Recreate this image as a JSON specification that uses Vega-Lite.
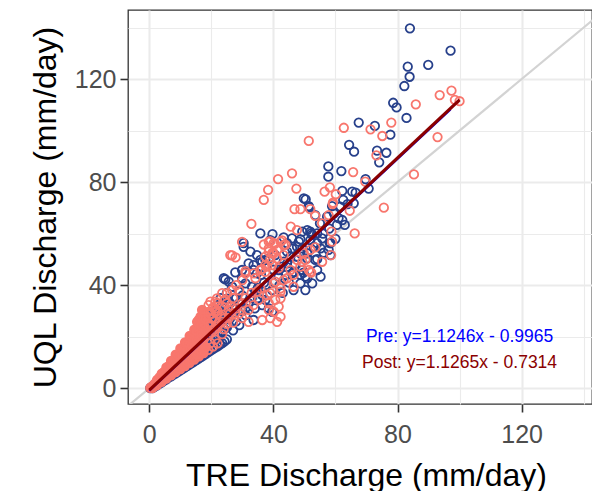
{
  "$schema": "https://vega.github.io/schema/vega-lite/v6.json",
  "autosize": {"type": "none"},
  "padding": {"left": 128, "top": 10, "right": 0, "bottom": 87},
  "width": 464,
  "height": 394,
  "background": "white",
  "config": {
    "font": "Liberation Sans",
    "view": {"stroke": "#333333", "strokeWidth": 1.3, "fill": "white"}
  },
  "datasets": {
    "pre": [
      {"tre":84.0,"uql":139.7},{"tre":97.1,"uql":131.0},{"tre":89.9,"uql":125.5},{"tre":83.3,"uql":124.8},{"tre":83.9,"uql":120.9},{"tre":82.2,"uql":117.3},{"tre":78.6,"uql":110.8},{"tre":79.7,"uql":109.0},{"tre":82.9,"uql":104.9},{"tre":67.5,"uql":103.1},{"tre":72.7,"uql":101.8},{"tre":77.7,"uql":98.4},{"tre":64.4,"uql":94.5},{"tre":66.0,"uql":91.8},{"tre":73.4,"uql":92.2},{"tre":76.4,"uql":91.4},{"tre":74.1,"uql":87.7},{"tre":57.7,"uql":86.1},{"tre":57.7,"uql":82.1},{"tre":61.9,"uql":84.3},{"tre":69.7,"uql":81.2},{"tre":70.7,"uql":77.5},{"tre":62.2,"uql":76.6},{"tre":65.4,"uql":76.3},{"tre":66.5,"uql":75.9},{"tre":50.4,"uql":73.3},{"tre":51.5,"uql":70.2},{"tre":63.9,"uql":71.5},{"tre":65.9,"uql":71.8},{"tre":57.3,"uql":66.6},{"tre":63.0,"uql":63.4},{"tre":58.4,"uql":56.3},{"tre":35.8,"uql":60.1},{"tre":39.7,"uql":59.8},{"tre":43.3,"uql":58.6},{"tre":48.7,"uql":57.8},{"tre":52.2,"uql":60.1},{"tre":54.1,"uql":50.1},{"tre":49.7,"uql":44.9},{"tre":30.4,"uql":54.9},{"tre":24.5,"uql":42.3},{"tre":27.7,"uql":45.0},{"tre":18.1,"uql":27.2},
      {"tre":49.8,"uql":73.7},{"tre":51.4,"uql":70.7},{"tre":53.5,"uql":67.2},{"tre":58.9,"uql":70.7},{"tre":59.5,"uql":67.9},{"tre":62.2,"uql":65.3},{"tre":60.5,"uql":63.4},{"tre":46.0,"uql":58.2},{"tre":51.9,"uql":60.8},{"tre":54.1,"uql":60.1},{"tre":51.9,"uql":57.5},{"tre":54.1,"uql":56.3},{"tre":55.7,"uql":58.2},{"tre":58.2,"uql":56.3},{"tre":58.4,"uql":51.7},{"tre":53.5,"uql":49.8},{"tre":50.9,"uql":50.4},{"tre":47.6,"uql":51.1},{"tre":55.2,"uql":54.3},{"tre":56.2,"uql":52.6},{"tre":46.0,"uql":54.3},{"tre":47.6,"uql":54.9},{"tre":44.4,"uql":53.0},{"tre":43.3,"uql":49.1},{"tre":44.4,"uql":47.0},{"tre":41.7,"uql":45.9},{"tre":46.5,"uql":45.2},{"tre":48.7,"uql":44.0},{"tre":50.3,"uql":43.3},{"tre":34.7,"uql":44.6},{"tre":37.4,"uql":49.8},{"tre":33.6,"uql":45.9},
      {"tre":24.0,"uql":42.7},{"tre":25.6,"uql":41.4},{"tre":26.7,"uql":39.4},{"tre":28.8,"uql":37.5},{"tre":29.9,"uql":45.9},{"tre":31.0,"uql":45.2},{"tre":32.0,"uql":48.5},{"tre":33.6,"uql":47.8},{"tre":29.9,"uql":42.7},{"tre":31.0,"uql":40.7},{"tre":33.1,"uql":39.4},{"tre":34.2,"uql":37.5},{"tre":36.4,"uql":36.2},{"tre":37.4,"uql":34.3},{"tre":36.4,"uql":32.3},{"tre":38.5,"uql":31.0},{"tre":39.6,"uql":29.7},{"tre":38.0,"uql":40.1},{"tre":39.6,"uql":38.1},{"tre":41.7,"uql":43.3},{"tre":36.4,"uql":49.1},{"tre":38.5,"uql":50.4},{"tre":40.6,"uql":51.7},{"tre":18.6,"uql":28.4},{"tre":21.3,"uql":27.8},{"tre":27.7,"uql":31.0},{"tre":31.0,"uql":28.4},{"tre":33.6,"uql":26.5},
      {"tre":62.5,"uql":73.1},{"tre":61.6,"uql":70.5},{"tre":57.8,"uql":53.7},{"tre":49.3,"uql":60.8},{"tre":50.9,"uql":61.4},{"tre":52.5,"uql":59.5},{"tre":30.4,"uql":56.3},{"tre":32.6,"uql":53.0},{"tre":34.7,"uql":51.7},{"tre":35.8,"uql":49.8},{"tre":39.0,"uql":57.5},{"tre":44.4,"uql":56.3},{"tre":48.2,"uql":56.9},{"tre":49.3,"uql":54.3},{"tre":48.7,"uql":52.4},{"tre":50.9,"uql":52.4},{"tre":45.5,"uql":51.1},{"tre":44.4,"uql":48.5},{"tre":42.3,"uql":47.2},{"tre":46.0,"uql":44.6},{"tre":49.3,"uql":45.9},{"tre":50.9,"uql":42.7},{"tre":52.5,"uql":40.7},{"tre":48.7,"uql":40.7},{"tre":46.5,"uql":38.1},{"tre":50.3,"uql":38.1},{"tre":54.1,"uql":45.9},{"tre":55.2,"uql":43.3},
      {"tre":27,"uql":22.5},{"tre":29,"uql":24.5},{"tre":28,"uql":26},{"tre":30,"uql":30},{"tre":32,"uql":33},{"tre":34,"uql":31},{"tre":35,"uql":35},{"tre":25,"uql":24},{"tre":23,"uql":25},{"tre":26,"uql":27},{"tre":20,"uql":24},{"tre":22,"uql":28.5},{"tre":24,"uql":31},{"tre":21,"uql":25},{"tre":23,"uql":35},{"tre":25,"uql":37},{"tre":22,"uql":32},{"tre":20,"uql":29.5},{"tre":24,"uql":29},{"tre":26,"uql":33},{"tre":28,"uql":35},{"tre":27,"uql":29},{"tre":30,"uql":36},{"tre":29,"uql":33},{"tre":31,"uql":31},{"tre":33,"uql":35},{"tre":35,"uql":39},{"tre":37,"uql":41},{"tre":36,"uql":44},{"tre":40,"uql":46},{"tre":42,"uql":40},{"tre":43,"uql":37},{"tre":45,"uql":41},{"tre":44,"uql":44},{"tre":47,"uql":48},{"tre":53,"uql":55},{"tre":56,"uql":60},{"tre":60,"uql":58},{"tre":61,"uql":66},{"tre":55,"uql":64},{"tre":58,"uql":62},
      {"tre":0.3,"uql":0.1},{"tre":0.6,"uql":0.35},
      {"tre":1,"uql":0.05},{"tre":1,"uql":0.2},{"tre":1,"uql":0.4},{"tre":1,"uql":0.6},
      {"tre":2.5,"uql":1.1},{"tre":2.5,"uql":1.6},{"tre":2.5,"uql":2.1},{"tre":2.5,"uql":2.75},
      {"tre":4,"uql":2.3},{"tre":4,"uql":3.1},{"tre":4,"uql":3.9},{"tre":4,"uql":4.9},
      {"tre":5.5,"uql":3.5},{"tre":5.5,"uql":4.6},{"tre":5.5,"uql":5.7},{"tre":5.5,"uql":7.0},
      {"tre":7,"uql":4.65},{"tre":7,"uql":6.05},{"tre":7,"uql":7.45},{"tre":7,"uql":9.2},
      {"tre":8.5,"uql":5.8},{"tre":8.5,"uql":7.5},{"tre":8.5,"uql":9.2},{"tre":8.5,"uql":11.35},
      {"tre":10,"uql":6.95},{"tre":10,"uql":8.95},{"tre":10,"uql":10.95},{"tre":10,"uql":13.45},
      {"tre":11.5,"uql":8.1},{"tre":11.5,"uql":10.4},{"tre":11.5,"uql":12.7},{"tre":11.5,"uql":15.55},
      {"tre":13,"uql":9.25},{"tre":13,"uql":11.85},{"tre":13,"uql":14.45},{"tre":13,"uql":17.7},
      {"tre":14.5,"uql":10.4},{"tre":14.5,"uql":13.3},{"tre":14.5,"uql":16.2},{"tre":14.5,"uql":19.85},
      {"tre":16,"uql":11.6},{"tre":16,"uql":14.8},{"tre":16,"uql":18.0},{"tre":16,"uql":22.0},
      {"tre":17.5,"uql":12.8},{"tre":17.5,"uql":16.3},{"tre":17.5,"uql":19.8},{"tre":17.5,"uql":24.2},
      {"tre":19,"uql":14.0},{"tre":19,"uql":17.8},{"tre":19,"uql":21.6},{"tre":19,"uql":26.3},
      {"tre":20.5,"uql":15.2},{"tre":20.5,"uql":19.2},{"tre":20.5,"uql":23.3},{"tre":20.5,"uql":28.4},
      {"tre":22,"uql":16.3},{"tre":22,"uql":20.7},{"tre":22,"uql":25.1},{"tre":22,"uql":30.6},
      {"tre":23.5,"uql":17.5},{"tre":23.5,"uql":22.2},{"tre":23.5,"uql":26.9},{"tre":23.5,"uql":32.7},
      {"tre":25,"uql":19.0},{"tre":25,"uql":23.6},{"tre":25,"uql":28.5},{"tre":25,"uql":34.8},
      {"tre":1.75,"uql":0.6},{"tre":1.75,"uql":1.0},{"tre":1.75,"uql":1.5},
      {"tre":3.25,"uql":1.8},{"tre":3.25,"uql":2.6},{"tre":3.25,"uql":3.5},
      {"tre":4.75,"uql":3.0},{"tre":4.75,"uql":4.0},{"tre":4.75,"uql":5.3},
      {"tre":6.25,"uql":4.2},{"tre":6.25,"uql":5.6},{"tre":6.25,"uql":7.1},
      {"tre":7.75,"uql":5.3},{"tre":7.75,"uql":6.9},{"tre":7.75,"uql":8.6},
      {"tre":9.25,"uql":6.4},{"tre":9.25,"uql":8.3},{"tre":9.25,"uql":10.3},
      {"tre":10.75,"uql":7.5},{"tre":10.75,"uql":9.7},{"tre":10.75,"uql":12.0},
      {"tre":12.25,"uql":8.7},{"tre":12.25,"uql":11.2},{"tre":12.25,"uql":13.8},
      {"tre":13.75,"uql":9.9},{"tre":13.75,"uql":12.6},{"tre":13.75,"uql":15.4},
      {"tre":15.25,"uql":11.0},{"tre":15.25,"uql":14.1},{"tre":15.25,"uql":17.2},
      {"tre":16.75,"uql":12.2},{"tre":16.75,"uql":15.5},{"tre":16.75,"uql":18.9},
      {"tre":18.25,"uql":13.4},{"tre":18.25,"uql":17.0},{"tre":18.25,"uql":20.6},
      {"tre":19.75,"uql":14.6},{"tre":19.75,"uql":18.5},{"tre":19.75,"uql":22.5},
      {"tre":21.25,"uql":15.8},{"tre":21.25,"uql":20.0},{"tre":21.25,"uql":24.2},
      {"tre":22.75,"uql":16.9},{"tre":22.75,"uql":21.5},{"tre":22.75,"uql":26.0},
      {"tre":24.25,"uql":18.2},{"tre":24.25,"uql":23.0},{"tre":24.25,"uql":27.8}
    ],
    "post": [
      {"tre":97.4,"uql":115.5},{"tre":93.6,"uql":113.8},{"tre":98.5,"uql":111.9},{"tre":100.0,"uql":111.4},{"tre":85.9,"uql":110.2},{"tre":78.0,"uql":103.1},{"tre":62.7,"uql":101.1},{"tre":71.3,"uql":100.5},{"tre":75.1,"uql":97.9},{"tre":92.9,"uql":97.5},{"tre":51.4,"uql":96.0},{"tre":73.2,"uql":90.4},{"tre":46.0,"uql":83.4},{"tre":41.5,"uql":81.2},{"tre":38.3,"uql":77.0},{"tre":47.4,"uql":77.5},{"tre":36.9,"uql":73.1},{"tre":65.7,"uql":83.9},{"tre":85.3,"uql":83.0},{"tre":56.5,"uql":76.3},{"tre":58.2,"uql":78.0},{"tre":60.1,"uql":75.3},{"tre":69.6,"uql":80.2},{"tre":59.1,"uql":71.5},{"tre":46.8,"uql":69.5},{"tre":48.7,"uql":69.5},{"tre":51.9,"uql":69.5},{"tre":53.5,"uql":66.9},{"tre":55.7,"uql":64.0},{"tre":64.6,"uql":68.9},{"tre":75.6,"uql":70.1},{"tre":32.9,"uql":63.8},{"tre":45.6,"uql":62.7},{"tre":47.6,"uql":61.4},{"tre":66.2,"uql":60.1},{"tre":58.7,"uql":60.8},{"tre":29.9,"uql":56.8},{"tre":26.7,"uql":51.6},{"tre":27.8,"uql":50.8},{"tre":58.6,"uql":51.7},{"tre":52.2,"uql":44.9},{"tre":38.5,"uql":56.9},{"tre":40.5,"uql":56.0},{"tre":57.8,"uql":67.2},
      {"tre":36.9,"uql":55.8},{"tre":39.0,"uql":57.0},{"tre":42.8,"uql":57.4},{"tre":43.9,"uql":55.7},{"tre":38.5,"uql":53.0},{"tre":40.1,"uql":52.4},{"tre":39.0,"uql":49.8},{"tre":37.4,"uql":47.8},{"tre":36.4,"uql":46.2},{"tre":49.8,"uql":52.4},{"tre":50.3,"uql":49.8},{"tre":48.7,"uql":47.2},{"tre":51.9,"uql":45.2},
      {"tre":26.1,"uql":51.7},{"tre":31.0,"uql":45.5},{"tre":34.2,"uql":42.7},{"tre":37.4,"uql":45.2},{"tre":39.6,"uql":47.8},{"tre":41.7,"uql":46.6},{"tre":40.6,"uql":41.4},{"tre":42.3,"uql":38.8},{"tre":35.8,"uql":38.8},{"tre":38.0,"uql":36.2},{"tre":35.3,"uql":34.3},{"tre":33.6,"uql":32.3},{"tre":32.0,"uql":30.4},{"tre":38.5,"uql":33.0},{"tre":40.6,"uql":34.3},{"tre":41.7,"uql":31.7},{"tre":40.1,"uql":29.7},{"tre":42.3,"uql":27.8},{"tre":39.0,"uql":27.2},{"tre":41.2,"uql":25.8},{"tre":19.1,"uql":32.3},{"tre":17.0,"uql":30.4},{"tre":21.3,"uql":33.6},{"tre":23.5,"uql":31.7},{"tre":25.6,"uql":30.4},{"tre":27.7,"uql":29.1},{"tre":29.9,"uql":27.2},{"tre":25.6,"uql":27.2},{"tre":21.3,"uql":29.7},{"tre":18.1,"uql":28.4},{"tre":15.9,"uql":26.5},{"tre":23.5,"uql":25.8},{"tre":32.0,"uql":25.8},{"tre":36.4,"uql":26.5},
      {"tre":59.2,"uql":72.0},{"tre":38.5,"uql":54.3},{"tre":40.1,"uql":56.3},{"tre":42.3,"uql":56.9},{"tre":43.3,"uql":55.6},{"tre":41.2,"uql":53.7},{"tre":39.6,"uql":52.4},{"tre":37.4,"uql":51.1},{"tre":41.2,"uql":50.4},{"tre":43.3,"uql":51.7},{"tre":38.0,"uql":47.2},{"tre":35.8,"uql":45.9},{"tre":33.6,"uql":44.6},{"tre":31.0,"uql":44.6},{"tre":47.6,"uql":49.8},{"tre":49.3,"uql":49.1},{"tre":51.4,"uql":45.9},{"tre":51.9,"uql":53.7},{"tre":53.5,"uql":54.7},{"tre":58.9,"uql":56.9},{"tre":55.7,"uql":49.1},{"tre":45.5,"uql":45.9},{"tre":46.5,"uql":44.0},{"tre":43.3,"uql":42.0},{"tre":40.1,"uql":40.7},{"tre":42.3,"uql":37.5},{"tre":39.0,"uql":36.9},{"tre":34.7,"uql":37.5},{"tre":42.3,"uql":34.9},{"tre":38.5,"uql":30.4},{"tre":46.5,"uql":39.4},{"tre":44.4,"uql":42.7},{"tre":19.7,"uql":33.6},{"tre":21.8,"uql":34.9},{"tre":23.5,"uql":36.9},{"tre":25.1,"uql":36.9},{"tre":26.7,"uql":38.1},{"tre":16.5,"uql":27.8},{"tre":15.4,"uql":25.8},
      {"tre":22,"uql":24},{"tre":24,"uql":27},{"tre":26,"uql":29},{"tre":28,"uql":31},{"tre":30,"uql":33},{"tre":24,"uql":23},{"tre":27,"uql":25.5},{"tre":29,"uql":29},{"tre":31,"uql":35},{"tre":33,"uql":37},{"tre":28,"uql":40},{"tre":30,"uql":42},{"tre":25,"uql":33},{"tre":27,"uql":35},{"tre":29,"uql":38},{"tre":22,"uql":30},{"tre":20,"uql":27},{"tre":21,"uql":23},{"tre":23,"uql":28},{"tre":19,"uql":25},{"tre":18,"uql":23.5},{"tre":20,"uql":21.5},{"tre":23.5,"uql":21.0},{"tre":25.0,"uql":25.0},{"tre":26.5,"uql":31.5},{"tre":24.5,"uql":34.5},
      {"tre":0.3,"uql":0.15},{"tre":0.6,"uql":0.4},
      {"tre":1,"uql":0.03},{"tre":1,"uql":0.33},{"tre":1,"uql":0.58},{"tre":1,"uql":0.83},
      {"tre":2.5,"uql":1.25},{"tre":2.5,"uql":2.0},{"tre":2.5,"uql":2.6},{"tre":2.5,"uql":3.25},
      {"tre":4,"uql":2.5},{"tre":4,"uql":3.7},{"tre":4,"uql":4.7},{"tre":4,"uql":5.7},
      {"tre":5.5,"uql":3.75},{"tre":5.5,"uql":5.4},{"tre":5.5,"uql":6.8},{"tre":5.5,"uql":8.15},
      {"tre":7,"uql":5.0},{"tre":7,"uql":7.1},{"tre":7,"uql":8.85},{"tre":7,"uql":10.6},
      {"tre":8.5,"uql":6.25},{"tre":8.5,"uql":8.8},{"tre":8.5,"uql":10.9},{"tre":8.5,"uql":13.05},
      {"tre":10,"uql":7.45},{"tre":10,"uql":10.45},{"tre":10,"uql":12.95},{"tre":10,"uql":15.45},
      {"tre":11.5,"uql":8.65},{"tre":11.5,"uql":12.1},{"tre":11.5,"uql":15.0},{"tre":11.5,"uql":17.85},
      {"tre":13,"uql":9.9},{"tre":13,"uql":13.8},{"tre":13,"uql":17.05},{"tre":13,"uql":20.3},
      {"tre":14.5,"uql":11.15},{"tre":14.5,"uql":15.5},{"tre":14.5,"uql":19.1},{"tre":14.5,"uql":22.75},
      {"tre":16,"uql":12.4},{"tre":16,"uql":17.2},{"tre":16,"uql":21.2},{"tre":16,"uql":25.2},
      {"tre":17.5,"uql":13.65},{"tre":17.5,"uql":18.9},{"tre":17.5,"uql":23.3},{"tre":17.5,"uql":27.65},
      {"tre":19,"uql":14.9},{"tre":19,"uql":20.6},{"tre":19,"uql":25.35},{"tre":19,"uql":29.6},
      {"tre":20.5,"uql":16.15},{"tre":20.5,"uql":22.3},{"tre":20.5,"uql":27.4},{"tre":20.5,"uql":31.3},
      {"tre":22,"uql":17.4},{"tre":22,"uql":24.0},{"tre":22,"uql":29.0},{"tre":22,"uql":33.0},
      {"tre":1.75,"uql":0.8},{"tre":1.75,"uql":1.3},{"tre":1.75,"uql":1.8},
      {"tre":3.25,"uql":2.3},{"tre":3.25,"uql":3.5},{"tre":3.25,"uql":4.2},
      {"tre":4.75,"uql":3.6},{"tre":4.75,"uql":5.2},{"tre":4.75,"uql":6.4},
      {"tre":6.25,"uql":5.0},{"tre":6.25,"uql":7.3},{"tre":6.25,"uql":8.6},
      {"tre":7.75,"uql":6.3},{"tre":7.75,"uql":9.0},{"tre":7.75,"uql":10.9},
      {"tre":9.25,"uql":7.7},{"tre":9.25,"uql":11.0},{"tre":9.25,"uql":13.1},
      {"tre":10.75,"uql":9.1},{"tre":10.75,"uql":12.9},{"tre":10.75,"uql":15.3},
      {"tre":12.25,"uql":10.5},{"tre":12.25,"uql":14.8},{"tre":12.25,"uql":17.6},
      {"tre":13.75,"uql":11.8},{"tre":13.75,"uql":16.8},{"tre":13.75,"uql":19.9},
      {"tre":15.25,"uql":13.3},{"tre":15.25,"uql":18.7},{"tre":15.25,"uql":22.2},
      {"tre":16.75,"uql":14.6},{"tre":16.75,"uql":20.6},{"tre":16.75,"uql":24.5},
      {"tre":18.25,"uql":16.0},{"tre":18.25,"uql":22.5},{"tre":18.25,"uql":26.7},
      {"tre":19.75,"uql":17.5},{"tre":19.75,"uql":24.4},{"tre":19.75,"uql":28.9},
      {"tre":21.25,"uql":18.9},{"tre":21.25,"uql":26.3},{"tre":21.25,"uql":31.0}
    ],
    "fits": [
      {"period":"Pre","tre":0,"uql":-0.9965},{"period":"Pre","tre":97.1,"uql":108.2},
      {"period":"Post","tre":0,"uql":-0.7314},{"period":"Post","tre":100.0,"uql":111.92}
    ],
    "identity": [{"tre":-20,"uql":-20},{"tre":170,"uql":170}],
    "notes": [
      {"period":"Pre","text":"Pre: y=1.1246x - 0.9965","tre":100,"uql":20},
      {"period":"Post","text":"Post: y=1.1265x - 0.7314","tre":100,"uql":10}
    ]
  },
  "encoding": {
    "x": {
      "field": "tre", "type": "quantitative",
      "scale": {"domain": [-6.87, 142.69], "nice": false, "zero": false},
      "axis": {
        "title": "TRE Discharge (mm/day)",
        "values": [0, 20, 40, 60, 80, 100, 120, 140],
        "labelExpr": "datum.value % 40 === 0 ? datum.label : ''",
        "labelOverlap": false,
        "grid": true, "gridColor": "#EBEBEB",
        "gridWidth": {"condition": {"test": "datum.value % 40 === 0", "value": 2.1}, "value": 1.1},
        "domain": false,
        "tickColor": "#333333", "tickWidth": 1.6, "tickSize": 8,
        "tickOpacity": {"condition": {"test": "datum.value % 40 === 0", "value": 1}, "value": 0},
        "labelFont": "Liberation Sans", "labelFontSize": 25, "labelColor": "#4D4D4D", "labelPadding": 10,
        "titleFont": "Liberation Sans", "titleFontSize": 32, "titleFontWeight": "normal", "titleColor": "#000000",
        "titleBaseline": "alphabetic", "titleY": 81, "titleX": 238
      }
    },
    "y": {
      "field": "uql", "type": "quantitative",
      "scale": {"domain": [-6.1, 146.8], "nice": false, "zero": false},
      "axis": {
        "title": "UQL Discharge (mm/day)",
        "values": [0, 20, 40, 60, 80, 100, 120, 140],
        "labelExpr": "datum.value % 40 === 0 ? datum.label : ''",
        "labelOverlap": false,
        "grid": true, "gridColor": "#EBEBEB",
        "gridWidth": {"condition": {"test": "datum.value % 40 === 0", "value": 2.1}, "value": 1.1},
        "domain": false,
        "tickColor": "#333333", "tickWidth": 1.6, "tickSize": 8,
        "tickOpacity": {"condition": {"test": "datum.value % 40 === 0", "value": 1}, "value": 0},
        "labelFont": "Liberation Sans", "labelFontSize": 25, "labelColor": "#4D4D4D", "labelPadding": 4,
        "titleFont": "Liberation Sans", "titleFontSize": 32, "titleFontWeight": "normal", "titleColor": "#000000",
        "titleAngle": -90, "titleBaseline": "alphabetic", "titleAlign": "center", "titleX": -73
      }
    }
  },
  "layer": [
    {
      "data": {"name": "identity"},
      "mark": {"type": "line", "color": "#D3D3D3", "strokeWidth": 2.2, "clip": true},
      "encoding": {}
    },
    {
      "data": {"name": "pre"},
      "transform": [{"filter": "datum.tre < 19"}],
      "mark": {"type": "point", "shape": "circle", "filled": true, "color": "#27408B", "opacity": 1, "size": 72}
    },
    {
      "data": {"name": "pre"},
      "mark": {"type": "point", "shape": "circle", "filled": false, "color": "#27408B", "opacity": 1, "size": 72, "strokeWidth": 1.8}
    },
    {
      "data": {"name": "post"},
      "transform": [{"filter": "datum.tre < 19"}],
      "mark": {"type": "point", "shape": "circle", "filled": true, "color": "#F8766D", "opacity": 1, "size": 72}
    },
    {
      "data": {"name": "post"},
      "mark": {"type": "point", "shape": "circle", "filled": false, "color": "#F8766D", "opacity": 1, "size": 72, "strokeWidth": 1.8}
    },
    {
      "data": {"name": "fits"},
      "transform": [{"filter": "datum.period === 'Pre'"}],
      "mark": {"type": "line", "color": "#0000FF", "strokeWidth": 2}
    },
    {
      "data": {"name": "fits"},
      "transform": [{"filter": "datum.period === 'Post'"}],
      "mark": {"type": "line", "color": "#8B0000", "strokeWidth": 3.2}
    },
    {
      "data": {"name": "notes"},
      "mark": {"type": "text", "font": "Liberation Sans", "fontSize": 17.5, "align": "center", "baseline": "middle"},
      "encoding": {
        "text": {"field": "text"},
        "color": {"field": "period", "type": "nominal", "scale": {"domain": ["Pre", "Post"], "range": ["#0000FF", "#8B0000"]}, "legend": null}
      }
    }
  ]
}
